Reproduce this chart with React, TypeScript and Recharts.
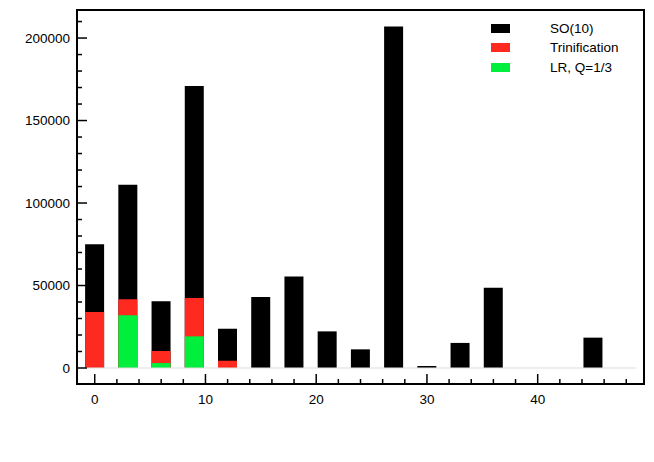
import {
  BarChart,
  Bar,
  XAxis,
  YAxis,
  ReferenceLine,
  ReferenceArea,
} from "recharts";

const positions = [0, 3, 6, 9, 12, 15, 18, 21, 24, 27, 30, 33, 36, 39, 42, 45, 48];
const so10 = [75000, 111000, 40500, 171000, 23800, 43000, 55400, 22200, 11300, 207000, 1200, 15200, 48700, 0, 0, 18400, 0];
const trinification = [34000, 41600, 10300, 42400, 4400, 0, 0, 0, 0, 0, 0, 0, 0, 0, 0, 0, 0];
const lrQ13 = [0, 32000, 3000, 19200, 0, 0, 0, 0, 0, 0, 0, 0, 0, 0, 0, 0, 0];

const seriesNames = ["SO(10)", "Trinification", "LR, Q=1/3"];
const seriesColors = ["#000000", "#ff2a1f", "#00ee3c"];

const xDomain = [-1.6, 49.6];
const yDomain = [-9700, 217000];
const xTicks = Array.from({ length: 25 }, (_, i) => i * 2);
const yTicks = Array.from({ length: 22 }, (_, i) => i * 10000);

const data = positions.map((x, i) => ({
  x,
  so10: so10[i],
  trin: trinification[i],
  lr: lrQ13[i],
}));

const FONT = "'Liberation Sans', Arial, sans-serif";

function YTick(props: any) {
  const { x, y, payload } = props;
  const major = payload.value % 50000 === 0;
  return (
    <g>
      <line x1={x} x2={x + (major ? 10 : 5)} y1={y} y2={y} stroke="#000" strokeWidth={1.5} />
      {major && (
        <text x={x - 7} y={y} dy="0.35em" textAnchor="end" fontSize={13.5} fontFamily={FONT} fill="#000">
          {payload.value}
        </text>
      )}
    </g>
  );
}

function XTick(props: any) {
  const { x, y, payload } = props;
  const major = payload.value % 10 === 0;
  return (
    <g>
      <line x1={x} x2={x} y1={y} y2={y - (major ? 10 : 5)} stroke="#000" strokeWidth={1.5} />
      {major && (
        <text x={x} y={y + 15} dy="0.35em" textAnchor="middle" fontSize={13.5} fontFamily={FONT} fill="#000">
          {payload.value}
        </text>
      )}
    </g>
  );
}

function LegendBox() {
  return (
    <div
      style={{
        position: "absolute",
        left: 491,
        top: 19,
        fontFamily: FONT,
        fontSize: 13.5,
        color: "#000",
      }}
    >
      {seriesNames.map((name, i) => (
        <div key={name} style={{ display: "flex", alignItems: "center", height: 19.3 }}>
          <span style={{ width: 19, height: 9, background: seriesColors[i], display: "inline-block" }} />
          <span style={{ marginLeft: 40 }}>{name}</span>
        </div>
      ))}
    </div>
  );
}

export default function App() {
  return (
    <div style={{ position: "absolute", left: 0, top: 0, width: 654, height: 462, background: "#fff" }}>
      <BarChart
        width={654}
        height={462}
        data={data}
        barGap={-19}
        margin={{ top: 10, right: 10, left: 0, bottom: 48 }}
      >
        <XAxis
          dataKey="x"
          type="number"
          domain={xDomain}
          allowDataOverflow
          ticks={xTicks}
          interval={0}
          height={30}
          tickSize={0}
          tickMargin={0}
          tick={<XTick />}
          axisLine={{ stroke: "#000", strokeWidth: 2 }}
        />
        <YAxis
          type="number"
          domain={yDomain}
          allowDataOverflow
          ticks={yTicks}
          interval={0}
          width={77}
          tickSize={0}
          tickMargin={0}
          tick={<YTick />}
          axisLine={{ stroke: "#000", strokeWidth: 2 }}
        />
        <ReferenceArea
          x1={xDomain[0]}
          x2={xDomain[1]}
          y1={yDomain[0]}
          y2={yDomain[1]}
          fill="none"
          stroke="#000"
          strokeWidth={2}
          ifOverflow="visible"
        />
        <ReferenceLine
          segment={[
            { x: positions[0] - 0.85, y: 0 },
            { x: positions[positions.length - 1] + 0.85, y: 0 },
          ]}
          stroke="#dcdcdc"
          strokeWidth={1}
          strokeOpacity={1}
        />
        <Bar dataKey="so10" name={seriesNames[0]} fill={seriesColors[0]} barSize={19} isAnimationActive={false} />
        <Bar dataKey="trin" name={seriesNames[1]} fill={seriesColors[1]} barSize={19} isAnimationActive={false} />
        <Bar dataKey="lr" name={seriesNames[2]} fill={seriesColors[2]} barSize={19} isAnimationActive={false} />
      </BarChart>
      <LegendBox />
    </div>
  );
}
